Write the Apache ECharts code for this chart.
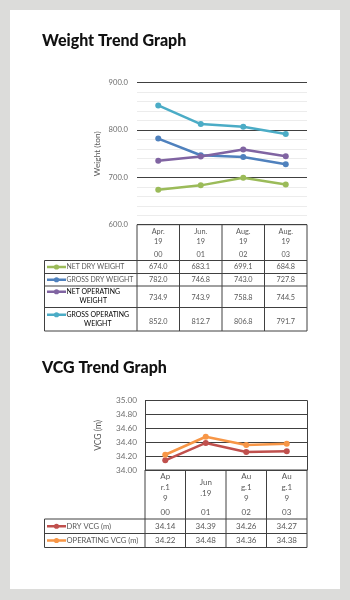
<!DOCTYPE html>
<html>
<head>
<meta charset="utf-8">
<script src="https://cdn.jsdelivr.net/npm/echarts@6/dist/echarts.min.js"></script>
<style>
  html, body { margin: 0; padding: 0; background: #dcdcda; }
  #chart { width: 350px; height: 600px; }
</style>
</head>
<body>
<div id="chart"></div>
<script>
// ---- Weight trend data ----
const weightPeriods = ['Apr.\n19', 'Jun.\n19', 'Aug.\n19', 'Aug.\n19'];
const weightCodes = ['00', '01', '02', '03'];
const weightTicks = ['600.0', '700.0', '800.0', '900.0'];
const netDryWeight = [674.0, 683.1, 699.1, 684.8];
const grossDryWeight = [782.0, 746.8, 743.0, 727.8];
const netOperatingWeight = [734.9, 743.9, 758.8, 744.5];
const grossOperatingWeight = [852.0, 812.7, 806.8, 791.7];
const weightSeriesNames = ['NET DRY WEIGHT', 'GROSS DRY WEIGHT', 'NET OPERATING\nWEIGHT', 'GROSS OPERATING\nWEIGHT'];

// ---- VCG trend data ----
const vcgPeriods = ['Ap\nr.1\n9', 'Jun\n.19', 'Au\ng.1\n9', 'Au\ng.1\n9'];
const vcgCodes = ['00', '01', '02', '03'];
const vcgTicks = ['34.00', '34.20', '34.40', '34.60', '34.80', '35.00'];
const dryVcg = [34.14, 34.39, 34.26, 34.27];
const operatingVcg = [34.22, 34.48, 34.36, 34.38];
const vcgSeriesNames = ['DRY VCG (m)', 'OPERATING VCG (m)'];

const weightColors = ['#9bbb59', '#4f81bd', '#8064a2', '#4bacc6'];
const vcgColors = ['#c0504d', '#f79646'];

const FONT = 'Lato, "Liberation Sans", sans-serif';
const TEXT = '#595959';
const LINE = '#404040';

// plot rectangles (pixels)
const g1 = { left: 137, right: 307, top: 82.7, bottom: 224.7 };
const g2 = { left: 145, right: 307, top: 400.7, bottom: 470 };

// table row boundaries below each plot
const t1Rows = [260.5, 273.5, 286, 307.5, 331];
const t1Left = 44.5;
const t2Rows = [519, 533.5, 547.5];
const t2Left = 44.5;

const chart = echarts.init(document.getElementById('chart'), null, { renderer: 'canvas' });

function colEdges(g, n) {
  const w = (g.right - g.left) / n;
  const xs = [];
  for (let i = 0; i <= n; i++) xs.push(g.left + i * w);
  return xs;
}

function line(x1, y1, x2, y2, color, w) {
  return { type: 'line', silent: true, shape: { x1, y1, x2, y2 },
    style: { stroke: color || LINE, lineWidth: w || 1 } };
}
function text(x, y, str, opt) {
  return { type: 'text', silent: true, x, y,
    style: Object.assign({ text: str, fill: TEXT, font: '7px ' + FONT, align: 'center', verticalAlign: 'middle' }, opt || {}) };
}
function legendKey(x, y, color) {
  return [
    line(x, y, x + 19, y, color, 2.5),
    { type: 'circle', silent: true, shape: { cx: x + 9.5, cy: y, r: 2.6 }, style: { fill: color } }
  ];
}

function buildTable(g, rows, leftX, names, colors, values, fontSize, labelSize, decimals, opt) {
  const els = [];
  const xs = colEdges(g, values[0].length);
  const top = g.bottom;
  // header cell borders
  els.push(line(xs[0], top, xs[xs.length - 1], top));
  xs.forEach(x => els.push(line(x, top, x, rows[rows.length - 1])));
  // row borders
  rows.forEach(y => els.push(line(leftX, y, xs[xs.length - 1], y)));
  els.push(line(leftX, rows[0], leftX, rows[rows.length - 1]));
  for (let r = 0; r < names.length; r++) {
    const y0 = rows[r], y1 = rows[r + 1];
    const cy = (y0 + y1) / 2;
    const shift = opt.keyShift ? opt.keyShift[r] : 0;
    els.push(...legendKey(leftX + 2.5, cy + shift, colors[r]));
    const lines = names[r].split('\n');
    if (lines.length === 1) {
      els.push(text(leftX + opt.labelX, cy, lines[0], { align: 'left', font: labelSize + 'px ' + FONT }));
    } else {
      // wrapped series name: block starts after the key, lines centred within the block
      els.push({
        type: 'text', silent: true, x: leftX + opt.labelX, y: cy + shift - opt.multiGap / 2,
        style: {
          text: lines.map(s => '{a|' + s + '}').join('\n'),
          align: 'left', verticalAlign: 'top',
          rich: { a: { align: 'center', fontSize: labelSize, fontFamily: FONT, color: TEXT, lineHeight: opt.multiGap } }
        }
      });
    }
    values[r].forEach((v, c) => {
      els.push(text((xs[c] + xs[c + 1]) / 2, cy + (opt.valShift ? opt.valShift[r] : 0), v.toFixed(decimals), { font: fontSize + 'px ' + FONT }));
    });
  }
  return els;
}

const tableWeight = buildTable(g1, t1Rows, t1Left, weightSeriesNames, weightColors,
  [netDryWeight, grossDryWeight, netOperatingWeight, grossOperatingWeight], 7.3, 6.9, 1,
  { labelX: 22, multiGap: 9.5, keyShift: [0, 0, -5, -4.5], valShift: [0, 0, 1, 2] });
const tableVcg = buildTable(g2, t2Rows, t2Left, vcgSeriesNames, vcgColors,
  [dryVcg, operatingVcg], 8, 7.6, 2, { labelX: 22, multiGap: 9.5 });

function headerLabel(periods, codes, style) {
  return function (value, idx) {
    const parts = periods[idx].split('\n');
    if (parts.length < style.lines) {
      return '{s|}\n' + parts.map(p => '{p|' + p + '}').join('\n') + '\n{s|}\n{c|' + codes[idx] + '}';
    }
    return parts.map(p => '{p|' + p + '}').join('\n') + '\n{c|' + codes[idx] + '}';
  };
}

const option = {
  backgroundColor: '#dcdcda',
  animation: false,
  grid: [
    { left: g1.left, top: g1.top, width: g1.right - g1.left, height: g1.bottom - g1.top },
    { left: g2.left, top: g2.top, width: g2.right - g2.left, height: g2.bottom - g2.top }
  ],
  xAxis: [
    {
      type: 'category', gridIndex: 0, data: weightCodes, boundaryGap: true,
      axisLine: { show: false }, axisTick: { show: false },
      axisLabel: {
        interval: 0, margin: 2.5, color: TEXT, fontFamily: FONT,
        formatter: headerLabel(weightPeriods, weightCodes, { lines: 2 }),
        rich: {
          p: { fontSize: 7.3, lineHeight: 9.5, color: TEXT, fontFamily: FONT },
          c: { fontSize: 7.3, lineHeight: 14.5, color: TEXT, fontFamily: FONT, padding: [2, 0, 0, 0] }
        }
      }
    },
    {
      type: 'category', gridIndex: 1, data: vcgCodes, boundaryGap: true,
      axisLine: { show: false }, axisTick: { show: false },
      axisLabel: {
        interval: 0, margin: 1.5, color: TEXT, fontFamily: FONT,
        formatter: headerLabel(vcgPeriods, vcgCodes, { lines: 3 }),
        rich: {
          s: { fontSize: 1, lineHeight: 5.4 },
          p: { fontSize: 8, lineHeight: 10.8, color: TEXT, fontFamily: FONT },
          c: { fontSize: 8, lineHeight: 14.5, color: TEXT, fontFamily: FONT, padding: [2, 0, 0, 0] }
        }
      }
    }
  ],
  yAxis: [
    {
      type: 'value', gridIndex: 0, min: 600, max: 900, interval: 100,
      name: 'Weight (ton)', nameLocation: 'middle', nameGap: 36, nameRotate: 90,
      nameTextStyle: { color: TEXT, fontSize: 8.3, fontFamily: FONT },
      axisLine: { show: false }, axisTick: { show: false },
      axisLabel: { color: '#6f6f6f', fontSize: 7.6, fontFamily: FONT, margin: 9,
        formatter: v => weightTicks[Math.round((v - 600) / 100)] },
      splitLine: { show: true, lineStyle: { color: LINE, width: 1 } },
      minorTick: { show: false, splitNumber: 5 },
      minorSplitLine: { show: true, lineStyle: { color: '#ececec', width: 1 } }
    },
    {
      type: 'value', gridIndex: 1, min: 34, max: 35, interval: 0.2,
      name: 'VCG (m)', nameLocation: 'middle', nameGap: 42, nameRotate: 90,
      nameTextStyle: { color: TEXT, fontSize: 8.5, fontFamily: FONT },
      axisLine: { show: true, lineStyle: { color: LINE } }, axisTick: { show: false },
      axisLabel: { color: '#6f6f6f', fontSize: 8.2, fontFamily: FONT, margin: 8,
        formatter: v => vcgTicks[Math.round((v - 34) / 0.2)] },
      splitLine: { show: true, lineStyle: { color: LINE, width: 1 } }
    },
    {
      // right border of the VCG plot box
      type: 'value', gridIndex: 1, position: 'right', min: 34, max: 35,
      axisLine: { show: true, lineStyle: { color: LINE } }, axisTick: { show: false },
      axisLabel: { show: false }, splitLine: { show: false }
    }
  ],
  series: [
    ...[netDryWeight, grossDryWeight, netOperatingWeight, grossOperatingWeight].map((d, i) => ({
      type: 'line', xAxisIndex: 0, yAxisIndex: 0, data: d, name: weightSeriesNames[i],
      color: weightColors[i], symbol: 'circle', symbolSize: 6,
      lineStyle: { width: 2.5 }, z: 3 + i
    })),
    ...[dryVcg, operatingVcg].map((d, i) => ({
      type: 'line', xAxisIndex: 1, yAxisIndex: 1, data: d, name: vcgSeriesNames[i],
      color: vcgColors[i], symbol: 'circle', symbolSize: 6,
      lineStyle: { width: 2.5 }, z: 3 + i
    }))
  ],
  graphic: [
    { type: 'rect', silent: true, z: -10, shape: { x: 10, y: 10, width: 330, height: 579 }, style: { fill: '#ffffff' } },
    { type: 'text', silent: true, x: 42, y: 41, style: { text: 'Weight Trend Graph', font: '900 16px ' + FONT, fill: '#111', verticalAlign: 'middle' } },
    { type: 'text', silent: true, x: 42, y: 367.5, style: { text: 'VCG Trend Graph', font: '900 16px ' + FONT, fill: '#111', verticalAlign: 'middle' } },
    ...tableWeight,
    ...tableVcg
  ]
};
chart.setOption(option);
</script>
</body>
</html>
